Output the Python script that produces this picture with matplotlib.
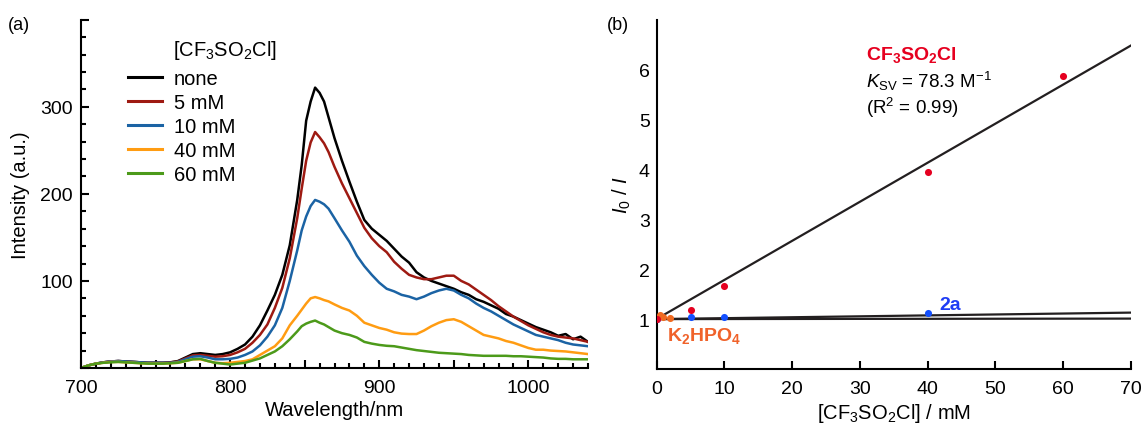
import numpy as np
import matplotlib
matplotlib.use('Agg')
import matplotlib.pyplot as plt
from matplotlib.ticker import MultipleLocator, FuncFormatter

plt.rcParams['font.family'] = ['Liberation Sans', 'DejaVu Sans']
plt.rcParams['mathtext.fontset'] = 'custom'
plt.rcParams['mathtext.rm'] = 'Liberation Sans'
plt.rcParams['mathtext.it'] = 'Liberation Sans:italic'
plt.rcParams['mathtext.bf'] = 'Liberation Sans:bold'
plt.rcParams['font.size'] = 14

# ---- panel (a): emission spectra ----
wavelength = list(range(700, 850, 5)) + [848, 851, 854, 857, 860, 863, 866] + list(range(870, 1045, 5))

spec_none = [0, 3, 5, 6.5, 7.5, 8, 7.5, 7, 6.5, 6,
             6, 6, 6.5, 8, 12, 16, 17, 16, 15, 16,
             18, 22, 27, 36, 49, 66, 84, 107, 141, 193,
             233, 284, 306, 322, 316, 306, 288,
             264, 238, 214, 191, 170, 160, 153, 146, 137, 128,
             121, 110, 104, 100, 97, 94, 91, 87, 84, 79,
             76, 72, 68, 62, 59, 55, 51, 47, 44, 41,
             37, 39, 33, 36, 30]
spec_5 = [0, 3, 5, 6.5, 7.5, 8, 7.5, 7, 6.5, 6,
          6, 6, 6.5, 7.5, 11, 14.5, 15, 14, 13, 13.5,
          15, 18, 22, 29, 38, 50, 69, 92, 126, 172,
          206, 238, 259, 271, 265, 258, 248,
          231, 212, 195, 178, 161, 149, 140, 133, 122, 114,
          107, 104, 102, 102, 104, 106, 106, 100, 96, 90,
          84, 78, 71, 65, 59, 54, 49, 45, 41, 38,
          36, 35, 34, 32, 30]
spec_10 = [0, 3, 5, 6.5, 7.5, 8, 7.5, 7, 6.5, 6,
           6, 6, 6, 7, 10, 13, 13.5, 12, 10, 10,
           10.5, 12, 15, 19, 26, 36, 49, 69, 100, 135,
           158, 174, 186, 193, 191, 188, 183,
           172, 158, 145, 129, 117, 107, 98, 91, 88, 84,
           82, 79, 82, 86, 89, 91, 89, 84, 80, 74,
           69, 65, 60, 55, 50, 46, 42, 38, 36, 34,
           32, 29, 27, 26, 25]
spec_40 = [0, 3, 5, 6, 7, 7, 6.5, 6, 5.5, 5,
           5, 5, 5.5, 6, 8, 10, 10, 8, 6, 5.5,
           6, 7, 8, 10, 15, 20, 25, 34, 49, 60,
           67, 74, 80, 81.5, 80, 78, 76.5,
           73, 69, 66, 60, 52, 49, 46, 44, 41, 39.5,
           39, 39, 43, 48, 52, 55, 56, 53, 48, 43,
           38, 36, 34, 31, 29, 26, 23, 21, 21, 20,
           19.5, 19, 18, 17, 16]
spec_60 = [0, 3, 5, 6, 6.5, 7, 6.5, 6, 5.5, 5,
           5, 5, 5.5, 6, 8, 10, 10.5, 8, 6, 5,
           4, 5, 6, 8.5, 11, 15, 19, 25, 33, 42,
           48, 51, 53, 54.5, 52, 50, 47,
           43, 40, 38, 35, 30, 28, 26.5, 25.5, 25, 23.5,
           22, 20.5, 19.5, 18.5, 17.5, 17, 16.5, 16, 15, 14.5,
           14, 14, 14, 14, 13.5, 13.5, 13, 12.5, 12, 11,
           10.5, 10.5, 10, 10, 10]

spec_labels = ['none', '5 mM', '10 mM', '40 mM', '60 mM']
spec_colors = ['#000000', '#9e1a12', '#1b63a4', '#ff9c12', '#4c9a1a']

# ---- panel (b): Stern-Volmer plot ----
cf3_x = [0, 5, 10, 40, 60]
cf3_y = [1.0, 1.19, 1.67, 3.95, 5.87]
a2_x = [0, 5, 10, 40]
a2_y = [1.0, 1.04, 1.04, 1.13]
k2_x = [0.5, 1, 2]
k2_y = [1.09, 1.05, 1.03]

fit_cf3_x = [0.6, 70]
fit_cf3_y = [1.05, 6.48]
fit_2a_x = [0, 70]
fit_2a_y = [1.0, 1.13]
fit_k2_x = [0, 70]
fit_k2_y = [1.0, 1.01]

W, H = 1145, 427
fig = plt.figure(figsize=(W / 100, H / 100), dpi=100)
axa = fig.add_axes([81 / W, 1 - 369 / H, (588 - 81) / W, (369 - 20.7) / H])
axb = fig.add_axes([656.7 / W, 1 - 370 / H, (1130.7 - 656.7) / W, (370 - 20.7) / H])

for ax in (axa, axb):
    ax.spines['top'].set_visible(False)
    ax.spines['right'].set_visible(False)
    ax.spines['left'].set_linewidth(1.5)
    ax.spines['bottom'].set_linewidth(1.5)

# panel (a)
series = [spec_none, spec_5, spec_10, spec_40, spec_60]
for vals, lab, col in zip(series, spec_labels, spec_colors):
    axa.plot(wavelength, vals, color=col, lw=1.8, label=lab)

axa.set_xlim(700, 1040)
axa.set_ylim(0, 400)
axa.xaxis.set_major_locator(MultipleLocator(50))
axa.xaxis.set_minor_locator(MultipleLocator(10))
axa.xaxis.set_major_formatter(FuncFormatter(lambda v, p: f'{int(v)}' if v % 100 == 0 else ''))
axa.yaxis.set_major_locator(MultipleLocator(100))
axa.yaxis.set_minor_locator(MultipleLocator(20))
axa.yaxis.set_major_formatter(FuncFormatter(lambda v, p: f'{int(v)}' if 0 < v < 400 else ''))
axa.tick_params(which='major', direction='in', length=6, width=1.5, labelsize=14)
axa.tick_params(which='minor', direction='in', length=3.5, width=1.5)
axa.tick_params(axis='x', which='major', pad=8)
axa.tick_params(axis='y', which='major', pad=6)
axa.set_xlabel('Wavelength/nm', fontsize=14.5, labelpad=3)
axa.set_ylabel('Intensity (a.u.)', fontsize=14.5, labelpad=7)

leg = axa.legend(loc='upper left', bbox_to_anchor=(128 / W, 1 - 70 / H),
                 bbox_transform=fig.transFigure, frameon=False, fontsize=14.5,
                 handlelength=1.68, handletextpad=0.61, labelspacing=0.25,
                 borderpad=0, borderaxespad=0)
for ln in leg.get_lines():
    ln.set_linewidth(2.2)
fig.text(172.7 / W, 1 - 50.7 / H, '[CF$_3$SO$_2$Cl]', fontsize=14.5, va='center', ha='left')
fig.text(8 / W, 1 - 25 / H, '(a)', fontsize=13, va='center', ha='left')

# panel (b)
line_col = '#231f20'
axb.plot(fit_cf3_x, fit_cf3_y, color=line_col, lw=1.6, zorder=2)
axb.plot(fit_2a_x, fit_2a_y, color=line_col, lw=1.6, zorder=2)
axb.plot(fit_k2_x, fit_k2_y, color=line_col, lw=1.6, zorder=2)
axb.scatter(a2_x, a2_y, s=26, color='#1450ff', zorder=3, linewidths=0)
axb.scatter(k2_x, k2_y, s=26, color='#f06a20', zorder=3, linewidths=0)
axb.scatter(cf3_x, cf3_y, s=26, color='#e50020', zorder=4, linewidths=0)

axb.set_xlim(0, 70)
axb.set_ylim(0, 7)
axb.xaxis.set_major_locator(MultipleLocator(10))
axb.set_yticks([1, 2, 3, 4, 5, 6])
axb.tick_params(axis='x', direction='in', length=6, width=1.5, labelsize=14, pad=8)
axb.tick_params(axis='y', length=0, labelsize=14, pad=5)
axb.set_xlabel('[CF$_3$SO$_2$Cl] / mM', fontsize=14.5, labelpad=3)
axb.set_ylabel('$\\mathit{I}_\\mathrm{0}$ / $\\mathit{I}$', fontsize=14.5, labelpad=4)

axb.text(30.9, 6.31, 'CF$_\\mathbf{3}$SO$_\\mathbf{2}$Cl', color='#e6001f', fontsize=14,
         fontweight='bold', va='center', ha='left')
axb.text(30.9, 5.78, '$\\mathit{K}_\\mathrm{SV}$ = 78.3 M$^{\\mathrm{-1}}$', fontsize=13.5,
         va='center', ha='left')
axb.text(30.9, 5.26, '(R$^\\mathrm{2}$ = 0.99)', fontsize=13.5, va='center', ha='left')
axb.text(41.7, 1.3, '2a', color='#1f3df5', fontsize=14, fontweight='bold', va='center', ha='left')
axb.text(1.5, 0.68, 'K$_\\mathbf{2}$HPO$_\\mathbf{4}$', color='#f0622a', fontsize=14,
         fontweight='bold', va='center', ha='left')
fig.text(607 / W, 1 - 25 / H, '(b)', fontsize=13, va='center', ha='left')

fig.savefig('out.png', dpi=100)
